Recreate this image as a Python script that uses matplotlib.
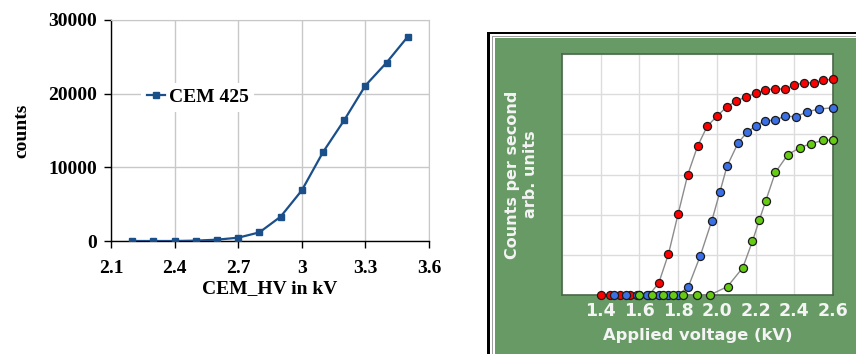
import matplotlib
matplotlib.use("Agg")
import matplotlib.pyplot as plt
from matplotlib.patches import Rectangle

# left panel: CEM 425 gain curve
hv_kv = [2.2, 2.3, 2.4, 2.5, 2.6, 2.7, 2.8, 2.9, 3.0, 3.1, 3.2, 3.3, 3.4, 3.5]
cem_counts = [0, 0, 0, 50, 180, 450, 1170, 3300, 6870, 12060, 16400, 21100, 24220, 27740]

# right panel: plateau curves for three detectors (arb. units)
red_v = [1.40, 1.45, 1.50, 1.55, 1.60, 1.65, 1.70, 1.75, 1.80, 1.85, 1.90, 1.95, 2.00,
         2.05, 2.10, 2.15, 2.20, 2.25, 2.30, 2.35, 2.40, 2.45, 2.50, 2.55, 2.60]
red_c = [0, 0, 0, 0, 0, 0, 0.30, 1.02, 2.02, 3.00, 3.70, 4.20, 4.45,
         4.68, 4.83, 4.93, 5.02, 5.10, 5.14, 5.12, 5.22, 5.29, 5.28, 5.35, 5.37]
blue_v = [1.47, 1.53, 1.59, 1.64, 1.70, 1.75, 1.80, 1.853, 1.914, 1.974, 2.016, 2.052,
          2.109, 2.155, 2.202, 2.248, 2.30, 2.35, 2.409, 2.467, 2.526, 2.598]
blue_c = [0, 0, 0, 0, 0, 0, 0, 0.21, 0.97, 1.85, 2.57, 3.20,
          3.78, 4.05, 4.21, 4.34, 4.35, 4.45, 4.44, 4.56, 4.63, 4.66]
green_v = [1.60, 1.665, 1.723, 1.775, 1.823, 1.895, 1.964, 2.055, 2.134, 2.184, 2.219,
           2.253, 2.302, 2.366, 2.429, 2.488, 2.548, 2.60]
green_c = [0, 0, 0, 0, 0, 0, 0, 0.21, 0.68, 1.34, 1.86,
           2.35, 3.05, 3.49, 3.67, 3.77, 3.85, 3.86]

W, H = 856, 354


def fx(px):
    return px / W


def fy(py):
    return 1 - py / H


fig = plt.figure(figsize=(W / 100, H / 100), dpi=100)
fig.patch.set_facecolor("white")

# ---------------- left chart ----------------
serif = ["Liberation Serif", "DejaVu Serif"]
ax1 = fig.add_axes([fx(111), fy(241), fx(429) - fx(111), fy(20) - fy(241)])
ax1.plot(hv_kv, cem_counts, color="#1b4f8a", lw=1.6, marker="s", ms=4.2,
         label="CEM 425", zorder=3)
ax1.set_xlim(2.1, 3.6)
ax1.set_ylim(0, 30000)
ax1.set_xticks([2.1, 2.4, 2.7, 3.0, 3.3, 3.6])
ax1.set_xticklabels(["2.1", "2.4", "2.7", "3", "3.3", "3.6"])
ax1.set_yticks([0, 10000, 20000, 30000])
ax1.grid(True, color="#c8c8c8", lw=1)
ax1.set_axisbelow(True)
for s in ("top", "right"):
    ax1.spines[s].set_color("#c8c8c8")
for s in ("left", "bottom"):
    ax1.spines[s].set_color("black")
    ax1.spines[s].set_linewidth(1)
ax1.tick_params(axis="y", direction="out", length=5, width=1, color="black", pad=5)
ax1.tick_params(axis="x", direction="out", length=5, width=1, color="black", pad=9)
for lab in ax1.get_xticklabels() + ax1.get_yticklabels():
    lab.set_fontfamily(serif)
    lab.set_fontweight("bold")
    lab.set_fontsize(14)
ax1.set_xlabel("CEM_HV in kV", family=serif, weight="bold", fontsize=14, labelpad=2)
ax1.set_ylabel("counts", family=serif, weight="bold", fontsize=14, labelpad=13)
leg = ax1.legend(loc="center left", bbox_to_anchor=(0.065, 0.65), frameon=True,
                 prop={"family": serif, "weight": "bold", "size": 14},
                 handlelength=0.9, handletextpad=0.2, borderpad=0.3,
                 fancybox=False)
leg.get_frame().set_facecolor("white")
leg.get_frame().set_edgecolor("none")
leg.get_frame().set_alpha(1)

# ---------------- right chart ----------------
# framed green panel behind the plot
frame = [
    (487.3, 31.7, "black"),
    (490.0, 34.0, "white"),
    (492.0, 36.0, "#a0a0a0"),
    (493.3, 37.3, "white"),
    (494.7, 38.3, "#689a66"),
]
for x0, y0, col in frame:
    fig.patches.append(Rectangle((fx(x0), -0.1), 1.2, fy(y0) + 0.1,
                                 transform=fig.transFigure, facecolor=col,
                                 edgecolor="none", zorder=-1))

ax2 = fig.add_axes([fx(562), fy(295), fx(833) - fx(562), fy(54) - fy(295)])
ax2.set_zorder(2)
ax2.set_facecolor("white")
ax2.set_xlim(1.2, 2.6)
ax2.set_ylim(0, 6)
ax2.set_xticks([1.2, 1.4, 1.6, 1.8, 2.0, 2.2, 2.4, 2.6])
ax2.set_xticklabels(["", "1.4", "1.6", "1.8", "2.0", "2.2", "2.4", "2.6"])
ax2.set_yticks(range(7))
ax2.set_yticklabels([])
ax2.grid(True, color="#dcdcdc", lw=1)
ax2.set_axisbelow(True)
for s in ax2.spines.values():
    s.set_color("#4a684a")
    s.set_linewidth(1.2)
ax2.tick_params(length=0, pad=5, labelcolor="#f4f4f4", labelsize=12.5)
for lab in ax2.get_xticklabels():
    lab.set_fontweight("bold")

for xs, ys, col in [(red_v, red_c, "#ff0000"), (blue_v, blue_c, "#3b6fe6"),
                    (green_v, green_c, "#66cc11")]:
    ax2.plot(xs, ys, color="#8c8c8c", lw=1, zorder=3, clip_on=False)
    ax2.plot(xs, ys, ls="none", marker="o", ms=5.8, mfc=col, mec="#1a1a1a",
             mew=0.9, zorder=4, clip_on=False)

ax2.set_xlabel("Applied voltage (kV)", color="#f4f4f4", weight="bold",
               fontsize=11.8, labelpad=6)
ax2.set_ylabel("Counts per second\narb. units", color="#f4f4f4", weight="bold",
               fontsize=11.5, labelpad=12, linespacing=1.25)

fig.savefig("out.png", dpi=100)
